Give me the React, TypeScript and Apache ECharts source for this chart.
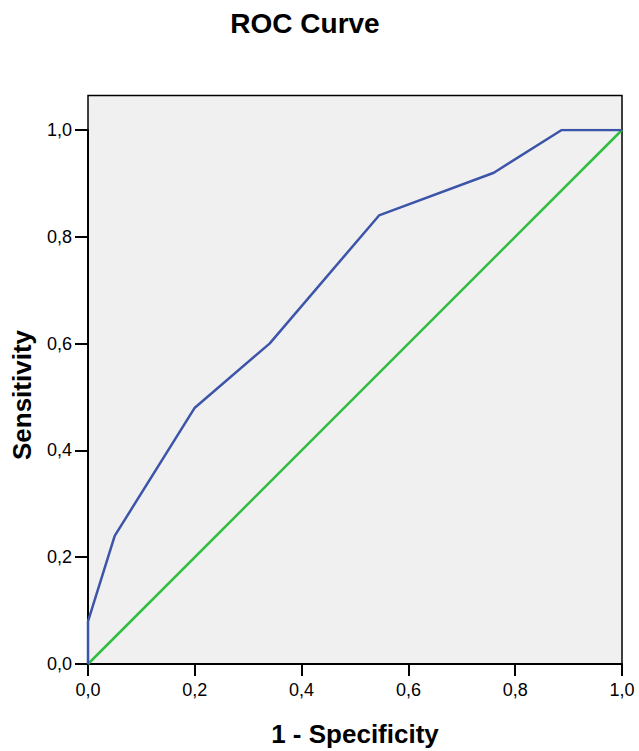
import React, { useEffect, useRef } from "react";
import * as echarts from "echarts";

const fprValues = [0, 0, 0.05, 0.2, 0.34, 0.545, 0.76, 0.887, 1];
const tprValues = [0, 0.08, 0.24, 0.48, 0.6, 0.84, 0.92, 1.0, 1.0];
const referenceLine = [
  [0, 0],
  [1, 1],
];

const fmt = (v: number) => v.toFixed(1).replace(".", ",");

export default function App() {
  const ref = useRef<HTMLDivElement>(null);
  useEffect(() => {
    if (!ref.current) return;
    const chart = echarts.init(ref.current, null, { renderer: "svg" });
    const font = "Arial, 'Liberation Sans', sans-serif";
    chart.setOption({
      animation: false,
      grid: { left: 88, right: 17, top: 130, bottom: 87 },
      graphic: [
        {
          type: "rect",
          z: -10,
          silent: true,
          shape: { x: 88, y: 95.5, width: 534, height: 568.5 },
          style: { fill: "#f0f0f0", stroke: "#000", lineWidth: 1.5 },
        },
        {
          type: "text",
          x: 305,
          y: 23,
          style: {
            text: "ROC Curve",
            font: `bold 28px ${font}`,
            fill: "#000",
            align: "center",
            verticalAlign: "middle",
          },
        },
        {
          type: "text",
          x: 355,
          y: 734,
          style: {
            text: "1 - Specificity",
            font: `bold 26px ${font}`,
            fill: "#000",
            align: "center",
            verticalAlign: "middle",
          },
        },
        {
          type: "text",
          x: 22,
          y: 395,
          rotation: Math.PI / 2,
          style: {
            text: "Sensitivity",
            font: `bold 26px ${font}`,
            fill: "#000",
            align: "center",
            verticalAlign: "middle",
          },
        },
      ],
      xAxis: {
        type: "value",
        min: 0,
        max: 1,
        interval: 0.2,
        splitLine: { show: false },
        axisLine: { show: true, lineStyle: { color: "#000", width: 2 } },
        axisTick: { show: true, length: 12, lineStyle: { color: "#000", width: 2 } },
        axisLabel: {
          color: "#000",
          fontSize: 18,
          fontFamily: font,
          margin: 17,
          formatter: (v: number) => fmt(v),
        },
      },
      yAxis: {
        type: "value",
        min: 0,
        max: 1,
        interval: 0.2,
        splitLine: { show: false },
        axisLine: { show: true, lineStyle: { color: "#000", width: 2 } },
        axisTick: { show: true, length: 13, lineStyle: { color: "#000", width: 2 } },
        axisLabel: {
          color: "#000",
          fontSize: 18,
          fontFamily: font,
          margin: 16,
          formatter: (v: number) => fmt(v),
        },
      },
      series: [
        {
          type: "line",
          data: referenceLine,
          symbol: "none",
          lineStyle: { color: "#2fbe3f", width: 2.5 },
          z: 2,
        },
        {
          type: "line",
          data: fprValues.map((x, i) => [x, tprValues[i]]),
          symbol: "none",
          lineStyle: { color: "#3d55a8", width: 2.5 },
          z: 3,
        },
      ],
    });
    return () => chart.dispose();
  }, []);
  return (
    <div
      ref={ref}
      style={{ position: "absolute", left: 0, top: 0, width: 639, height: 751 }}
    />
  );
}
